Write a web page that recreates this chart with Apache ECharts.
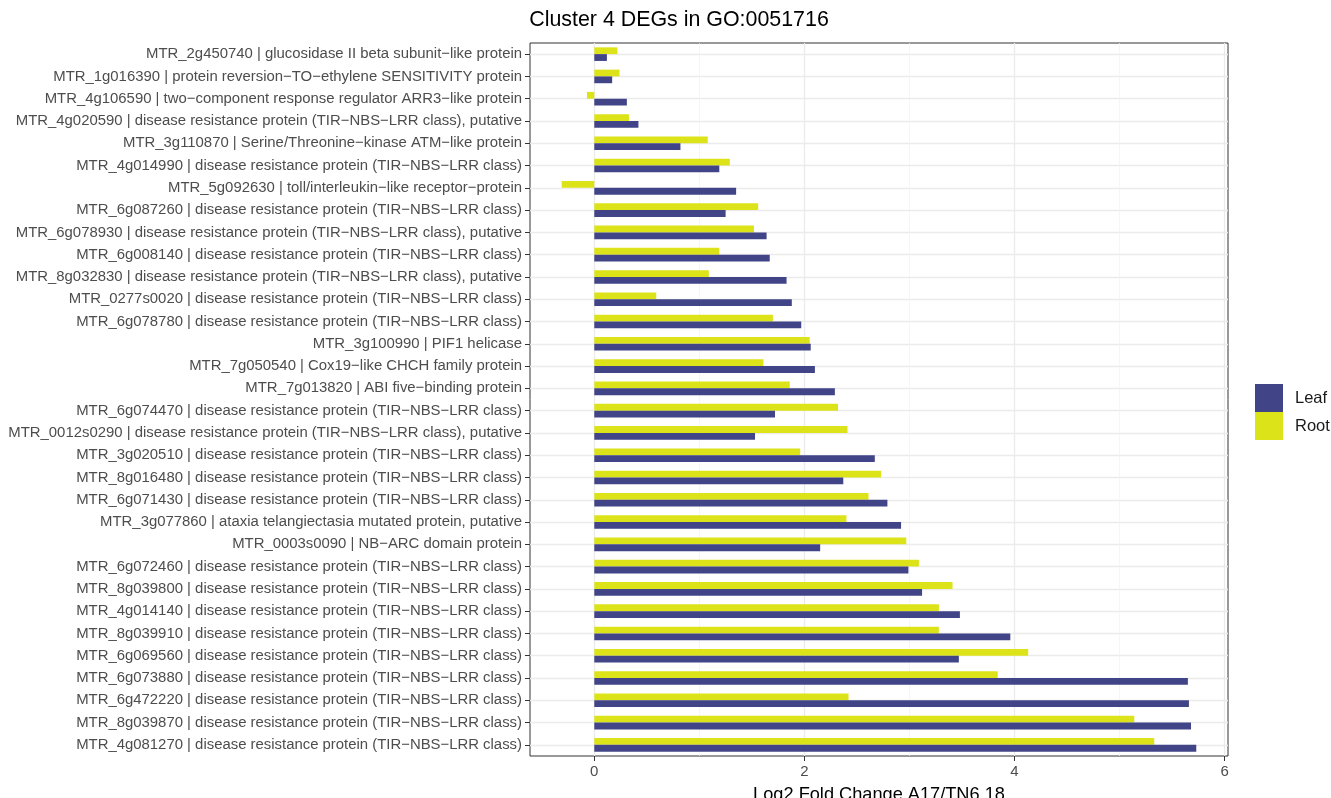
<!DOCTYPE html>
<html>
<head>
<meta charset="utf-8">
<script src="https://cdn.jsdelivr.net/npm/echarts@6/dist/echarts.min.js"></script>
<style>
html,body{margin:0;padding:0;background:#fff;}
#chart{width:1331px;height:798px;}
</style>
</head>
<body>
<div id="chart"></div>
<script>
const categories = [
  "MTR_2g450740 | glucosidase II beta subunit−like protein",
  "MTR_1g016390 | protein reversion−TO−ethylene SENSITIVITY protein",
  "MTR_4g106590 | two−component response regulator ARR3−like protein",
  "MTR_4g020590 | disease resistance protein (TIR−NBS−LRR class), putative",
  "MTR_3g110870 | Serine/Threonine−kinase ATM−like protein",
  "MTR_4g014990 | disease resistance protein (TIR−NBS−LRR class)",
  "MTR_5g092630 | toll/interleukin−like receptor−protein",
  "MTR_6g087260 | disease resistance protein (TIR−NBS−LRR class)",
  "MTR_6g078930 | disease resistance protein (TIR−NBS−LRR class), putative",
  "MTR_6g008140 | disease resistance protein (TIR−NBS−LRR class)",
  "MTR_8g032830 | disease resistance protein (TIR−NBS−LRR class), putative",
  "MTR_0277s0020 | disease resistance protein (TIR−NBS−LRR class)",
  "MTR_6g078780 | disease resistance protein (TIR−NBS−LRR class)",
  "MTR_3g100990 | PIF1 helicase",
  "MTR_7g050540 | Cox19−like CHCH family protein",
  "MTR_7g013820 | ABI five−binding protein",
  "MTR_6g074470 | disease resistance protein (TIR−NBS−LRR class)",
  "MTR_0012s0290 | disease resistance protein (TIR−NBS−LRR class), putative",
  "MTR_3g020510 | disease resistance protein (TIR−NBS−LRR class)",
  "MTR_8g016480 | disease resistance protein (TIR−NBS−LRR class)",
  "MTR_6g071430 | disease resistance protein (TIR−NBS−LRR class)",
  "MTR_3g077860 | ataxia telangiectasia mutated protein, putative",
  "MTR_0003s0090 | NB−ARC domain protein",
  "MTR_6g072460 | disease resistance protein (TIR−NBS−LRR class)",
  "MTR_8g039800 | disease resistance protein (TIR−NBS−LRR class)",
  "MTR_4g014140 | disease resistance protein (TIR−NBS−LRR class)",
  "MTR_8g039910 | disease resistance protein (TIR−NBS−LRR class)",
  "MTR_6g069560 | disease resistance protein (TIR−NBS−LRR class)",
  "MTR_6g073880 | disease resistance protein (TIR−NBS−LRR class)",
  "MTR_6g472220 | disease resistance protein (TIR−NBS−LRR class)",
  "MTR_8g039870 | disease resistance protein (TIR−NBS−LRR class)",
  "MTR_4g081270 | disease resistance protein (TIR−NBS−LRR class)"
];
const leafValues = [0.12,0.17,0.31,0.42,0.82,1.19,1.35,1.25,1.64,1.67,1.83,1.88,1.97,2.06,2.10,2.29,1.72,1.53,2.67,2.37,2.79,2.92,2.15,2.99,3.12,3.48,3.96,3.47,5.65,5.66,5.68,5.73];
const rootValues = [0.22,0.24,-0.07,0.33,1.08,1.29,-0.31,1.56,1.52,1.19,1.09,0.59,1.70,2.05,1.61,1.86,2.32,2.41,1.96,2.73,2.61,2.40,2.97,3.09,3.41,3.28,3.28,4.13,3.84,2.42,5.14,5.33];
const xMajorTicks = [0, 2, 4, 6];
const xMinorTicks = [1, 3, 5];
const seriesNames = ["Leaf", "Root"];

const chart = echarts.init(document.getElementById('chart'), null, {renderer: 'canvas'});
const font = 'Liberation Sans, Arial, Helvetica, sans-serif';
const option = {
  backgroundColor: '#ffffff',
  animation: false,
  textStyle: {fontFamily: font},
  title: {
    text: 'Cluster 4 DEGs in GO:0051716',
    left: 674, top: 5, textAlign: 'center',
    textStyle: {fontSize: 21.4, fontWeight: 'normal', color: '#000', fontFamily: font}
  },
  legend: {
    data: seriesNames,
    orient: 'vertical',
    left: 1250, top: 379,
    itemWidth: 28, itemHeight: 28, itemGap: 0,
    icon: 'rect',
    textStyle: {fontSize: 16.5, color: '#1a1a1a', fontFamily: font, padding: [0, 0, 0, 7]}
  },
  grid: {
    left: 530, top: 43, width: 698, height: 713,
    show: true, borderColor: '#333333', borderWidth: 1,
    containLabel: false, outerBoundsMode: 'none'
  },
  xAxis: [{
    type: 'value', min: -0.612, max: 6.032,
    axisLine: {show: false, onZero: false},
    axisTick: {show: true, customValues: xMajorTicks, length: 5, lineStyle: {color: '#333333'}},
    axisLabel: {customValues: xMajorTicks, color: '#4d4d4d', fontSize: 15, margin: 8, fontFamily: font},
    splitLine: {show: true, lineStyle: {color: '#ebebeb', width: 1.3}},
    name: 'Log2 Fold Change A17/TN6.18', nameLocation: 'middle', nameGap: 30,
    nameTextStyle: {fontSize: 18.2, color: '#000', fontFamily: font}
  }, {
    type: 'value', min: -0.612, max: 6.032, position: 'top',
    axisLine: {show: false, onZero: false},
    axisTick: {show: false, customValues: xMinorTicks},
    axisLabel: {show: false, customValues: xMinorTicks},
    splitLine: {show: true, lineStyle: {color: '#f0f0f0', width: 0.7}}
  }],
  yAxis: [{
    type: 'category', data: categories, inverse: true,
    axisLine: {show: false, onZero: false},
    axisTick: {show: true, alignWithLabel: true, length: 5, lineStyle: {color: '#333333'}},
    axisLabel: {color: '#4d4d4d', fontSize: 14.9, margin: 8, fontFamily: font},
    splitLine: {show: true, alignWithLabel: true, lineStyle: {color: '#ebebeb', width: 1.3}}
  }],
  series: [{
    name: 'Root', type: 'bar', data: rootValues, xAxisIndex: 0,
    barWidth: 6.8, barGap: '0%',
    itemStyle: {color: '#DCE319'}
  }, {
    name: 'Leaf', type: 'bar', data: leafValues, xAxisIndex: 0,
    barWidth: 6.8, barGap: '0%',
    itemStyle: {color: '#414487'}
  }]
};
chart.setOption(option);
</script>
</body>
</html>
